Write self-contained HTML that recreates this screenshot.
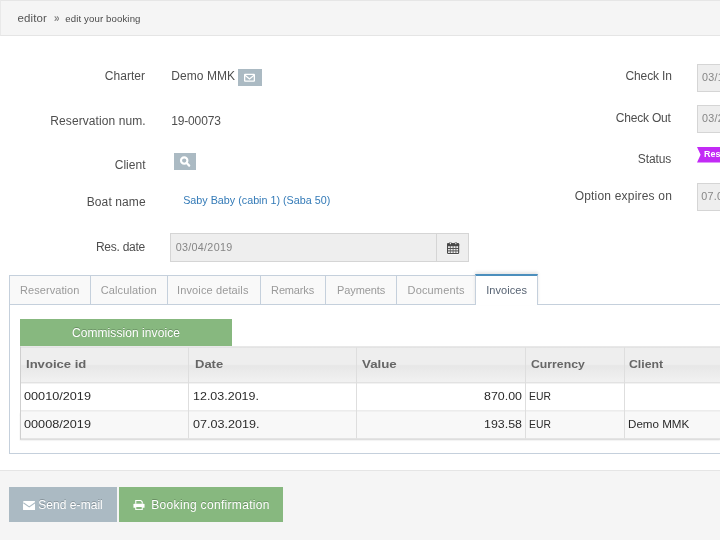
<!DOCTYPE html>
<html><head><meta charset="utf-8">
<style>
*{box-sizing:border-box;margin:0;padding:0}
html,body{width:720px;height:540px;overflow:hidden;background:#fff;font-family:"Liberation Sans",sans-serif;color:#393939;font-size:12px}
.a{position:absolute}
.t{position:absolute;white-space:nowrap;line-height:16px}
.inp{position:absolute;background:#eeeeee;border:1px solid #d5d5d5;height:28px}
.tab{position:absolute;top:275px;height:30px;background:#f9f9f9;border:1px solid #c5d0dc}
.vl{position:absolute;top:347px;width:1px;height:91px;background:#dddddd}
</style></head><body>
<div id="wrap" style="position:absolute;left:0;top:0;width:720px;height:540px;overflow:hidden;will-change:transform">
<!-- breadcrumb -->
<div class="a" style="left:0;top:0;width:720px;height:36px;background:#f5f5f5;border-top:1px solid #e6e6e6;border-left:1px solid #e9e9e9;border-bottom:1px solid #e5e5e5"></div>
<div class="t" style="left:17.4px;top:9.9px;font-size:11.5px;color:#555;letter-spacing:0.133px;">editor</div>
<svg class="a" style="left:53.7px;top:15.8px" width="5.6" height="5.5" viewBox="0 0 6 6"><path d="M0.7 0.5 L2.8 2.9 L0.7 5.3 M3.2 0.5 L5.3 2.9 L3.2 5.3" fill="none" stroke="#858585" stroke-width="1.15"/></svg>
<div class="t" style="left:65.3px;top:10.9px;font-size:9.6px;color:#4a4a4a;letter-spacing:0.129px;">edit your booking</div>

<!-- left form -->
<div class="t" style="left:104.7px;top:68.4px;font-size:12px;color:#4e4e4e;letter-spacing:0.064px;">Charter</div>
<div class="t" style="left:50.3px;top:112.7px;font-size:12px;color:#4e4e4e;letter-spacing:0.086px;">Reservation num.</div>
<div class="t" style="left:114.7px;top:156.7px;font-size:12px;color:#4e4e4e;letter-spacing:0.031px;">Client</div>
<div class="t" style="left:86.7px;top:194px;font-size:12px;color:#4e4e4e;letter-spacing:0.117px;">Boat name</div>
<div class="t" style="left:95.9px;top:239px;font-size:12px;color:#4e4e4e;letter-spacing:-0.249px;">Res. date</div>
<div class="t" style="left:171.2px;top:68.4px;font-size:12px;color:#4e4e4e;letter-spacing:0.081px;">Demo MMK</div>
<div class="a" style="left:238px;top:69px;width:24px;height:17px;background:#abbac3">
<svg width="24" height="17" viewBox="0 0 24 17"><rect x="6.65" y="5.3" width="9.7" height="6.9" rx=".4" fill="none" stroke="#fff" stroke-width="1.3"/><path d="M7 6.2 L11.5 10 L16 6.2" fill="none" stroke="#fff" stroke-width="1.2"/></svg>
</div>
<div class="t" style="left:171.2px;top:113px;font-size:12px;color:#4e4e4e;letter-spacing:-0.148px;">19-00073</div>
<div class="a" style="left:174px;top:153px;width:22px;height:17px;background:#abbac3">
<svg width="22" height="17" viewBox="0 0 22 17"><circle cx="10.2" cy="7.6" r="3.2" fill="none" stroke="#fff" stroke-width="2.1"/><path d="M12.9 10.3 L15.2 12.6" stroke="#fff" stroke-width="2.2" stroke-linecap="round"/></svg>
</div>
<div class="t" style="left:183.2px;top:192.4px;font-size:10.75px;color:#337ab7;letter-spacing:0.003px;">Saby Baby (cabin 1) (Saba 50)</div>
<div class="inp" style="left:170px;top:233px;width:267px;height:29px"></div>
<div class="t" style="left:175.7px;top:238.8px;font-size:10.75px;color:#868686;letter-spacing:0.297px;">03/04/2019</div>
<div class="a" style="left:436px;top:233px;width:32.5px;height:29px;background:#eee;border:1px solid #d5d5d5">
<svg width="30" height="27" viewBox="0 0 30 27"><g transform="translate(10 7.9)"><rect x="0" y="2.2" width="12.2" height="10.2" rx=".9" fill="#fff" opacity=".55" transform="translate(0 .7)"/><rect x=".55" y="1.9" width="11.1" height="9.7" rx=".8" fill="#f3f3f3" stroke="#484848" stroke-width="1.1"/><rect x="0" y="1.4" width="12.2" height="3" rx=".8" fill="#484848"/><rect x="2.3" y="0" width="2.2" height="3" rx="1" fill="#484848"/><rect x="7.7" y="0" width="2.2" height="3" rx="1" fill="#484848"/><rect x="2.85" y=".45" width="1.1" height="2" rx=".55" fill="#f4f4f4"/><rect x="8.25" y=".45" width="1.1" height="2" rx=".55" fill="#f4f4f4"/><path d="M0.5 6.6 H11.7 M0.5 9 H11.7" stroke="#484848" stroke-width=".95"/><path d="M3.3 4 V11.5 M6.1 4 V11.5 M8.9 4 V11.5" stroke="#5a5a5a" stroke-width=".85"/></g></svg>
</div>

<!-- right form -->
<div class="t" style="left:625.5px;top:68.4px;font-size:12px;color:#4e4e4e;letter-spacing:-0.126px;">Check In</div>
<div class="t" style="left:615.8px;top:109.7px;font-size:12px;color:#4e4e4e;letter-spacing:-0.194px;">Check Out</div>
<div class="t" style="left:637.8px;top:150.7px;font-size:12px;color:#4e4e4e;letter-spacing:-0.124px;">Status</div>
<div class="t" style="left:574.7px;top:188px;font-size:12px;color:#4e4e4e;letter-spacing:0.195px;">Option expires on</div>
<div class="inp" style="left:697px;top:64px;width:60px"></div>
<div class="inp" style="left:697px;top:104.5px;width:60px"></div>
<div class="inp" style="left:697px;top:182.5px;width:60px"></div>
<div class="t" style="left:702px;top:69.2px;font-size:10.75px;color:#868686;letter-spacing:.24px">03/15</div>
<div class="t" style="left:702px;top:110px;font-size:10.75px;color:#868686;letter-spacing:.24px">03/22</div>
<div class="t" style="left:701.3px;top:188px;font-size:10.75px;color:#868686;letter-spacing:.24px">07.03</div>
<div class="a" style="left:697px;top:147px;width:40px;height:15.5px;background:#c22af5;clip-path:polygon(0 0,100% 0,100% 100%,0 100%,3.6px 50%)"></div>
<div class="t" style="left:704px;top:146px;font-size:9.5px;font-weight:bold;color:#fff;transform:scaleX(.94);transform-origin:0 0">Reserv</div>

<!-- tabs -->
<div class="a" style="left:9px;top:304px;width:720px;height:150px;border:1px solid #c5d0dc;border-right:0"></div>
<div class="tab" style="left:9px;width:82px"></div>
<div class="tab" style="left:90px;width:78px"></div>
<div class="tab" style="left:167px;width:94px"></div>
<div class="tab" style="left:260px;width:66px"></div>
<div class="tab" style="left:325px;width:72px"></div>
<div class="tab" style="left:396px;width:80px"></div>
<div class="tab" style="left:475px;width:63px;top:274px;height:31px;background:#fff;border-top:2px solid #4c8fbd;border-bottom:0;box-shadow:0 -2px 3px 0 rgba(0,0,0,.1)"></div>
<div class="t" style="left:20px;top:281.7px;font-size:11px;color:#9a9a9a;letter-spacing:0.072px;">Reservation</div>
<div class="t" style="left:100.7px;top:281.7px;font-size:11px;color:#9a9a9a;letter-spacing:0.14px;">Calculation</div>
<div class="t" style="left:177.1px;top:281.7px;font-size:11px;color:#9a9a9a;letter-spacing:0.114px;">Invoice details</div>
<div class="t" style="left:271.1px;top:281.7px;font-size:11px;color:#9a9a9a;letter-spacing:-0.151px;">Remarks</div>
<div class="t" style="left:336.9px;top:281.7px;font-size:11px;color:#9a9a9a;letter-spacing:-0.073px;">Payments</div>
<div class="t" style="left:407.6px;top:281.7px;font-size:11px;color:#9a9a9a;letter-spacing:0.146px;">Documents</div>
<div class="t" style="left:486.2px;top:281.7px;font-size:11px;color:#576373;letter-spacing:0.05px;">Invoices</div>

<!-- green button -->
<div class="a" style="left:20px;top:319px;width:212px;height:27px;background:#87b87f"></div>
<div class="t" style="left:72px;top:324.5px;font-size:12px;color:#fff;letter-spacing:0.069px;text-shadow:0 -1px 0 rgba(0,0,0,.22);">Commission invoice</div>

<!-- table -->
<div class="a" id="tbl" style="left:20px;top:346px;width:700px;height:93px;transform:translateY(.5px)">
<div class="a" style="left:0;top:0;width:700px;height:37px;background:linear-gradient(#eeeeee 0%,#eeeeee 48%,#e7e7e7 52%,#f1f1f1 97%,#f1f1f1 100%);border-top:1px solid #d2d2d2;border-bottom:1px solid #cdcdcd"></div>
<div class="a" style="left:0;top:37px;width:700px;height:28px;background:#fff;border-bottom:1px solid #dadada"></div>
<div class="a" style="left:0;top:65px;width:700px;height:28px;background:#f8f8f8;border-bottom:1px solid #d0d0d0;box-shadow:0 1px 1.5px rgba(0,0,0,.12)"></div>
<div class="a" style="left:0;top:0;width:1px;height:93px;background:#cfcfcf"></div>
<div class="a" style="left:168px;top:1px;width:1px;height:91px;background:#dedede"></div>
<div class="a" style="left:336px;top:1px;width:1px;height:91px;background:#dedede"></div>
<div class="a" style="left:505px;top:1px;width:1px;height:91px;background:#dedede"></div>
<div class="a" style="left:603.5px;top:1px;width:1px;height:91px;background:#dedede"></div>
</div>
<div class="t" style="left:25.7px;top:355.6px;font-size:11.5px;color:#666;font-weight:bold;transform:scaleX(1.1374);transform-origin:0 0;">Invoice id</div>
<div class="t" style="left:194.5px;top:355.6px;font-size:11.5px;color:#666;font-weight:bold;transform:scaleX(1.1292);transform-origin:0 0;">Date</div>
<div class="t" style="left:362.2px;top:355.6px;font-size:11.5px;color:#666;font-weight:bold;transform:scaleX(1.1568);transform-origin:0 0;">Value</div>
<div class="t" style="left:531px;top:355.6px;font-size:11.5px;color:#666;font-weight:bold;transform:scaleX(1.0647);transform-origin:0 0;">Currency</div>
<div class="t" style="left:629.2px;top:355.6px;font-size:11.5px;color:#666;font-weight:bold;transform:scaleX(1.068);transform-origin:0 0;">Client</div>
<div class="t" style="left:24.1px;top:388.2px;font-size:11.5px;color:#2a2a2a;transform:scaleX(1.1017);transform-origin:0 0;">00010/2019</div>
<div class="t" style="left:193px;top:388.2px;font-size:11.5px;color:#2a2a2a;transform:scaleX(1.0858);transform-origin:0 0;">12.03.2019.</div>
<div class="t" style="left:483.5px;top:388.2px;font-size:11.5px;color:#2a2a2a;transform:scaleX(1.0783);transform-origin:0 0;">870.00</div>
<div class="t" style="left:529.4px;top:388.2px;font-size:11.5px;color:#2a2a2a;transform:scaleX(0.9009);transform-origin:0 0;">EUR</div>
<div class="t" style="left:24.1px;top:415.8px;font-size:11.5px;color:#2a2a2a;transform:scaleX(1.1017);transform-origin:0 0;">00008/2019</div>
<div class="t" style="left:192.5px;top:415.8px;font-size:11.5px;color:#2a2a2a;transform:scaleX(1.094);transform-origin:0 0;">07.03.2019.</div>
<div class="t" style="left:483.5px;top:415.8px;font-size:11.5px;color:#2a2a2a;transform:scaleX(1.0783);transform-origin:0 0;">193.58</div>
<div class="t" style="left:529.4px;top:415.8px;font-size:11.5px;color:#2a2a2a;transform:scaleX(0.9009);transform-origin:0 0;">EUR</div>
<div class="t" style="left:627.8px;top:415.8px;font-size:11.5px;color:#2a2a2a;transform:scaleX(1.0093);transform-origin:0 0;">Demo MMK</div>

<!-- footer -->
<div class="a" style="left:0;top:470px;width:720px;height:70px;background:#f5f5f5;border-top:1px solid #e5e5e5"></div>
<div class="a" style="left:9px;top:487px;width:108px;height:35px;background:#abbac3"></div>
<svg class="a" style="left:22.6px;top:500.5px" width="12.4" height="9.5" viewBox="0 0 13 10"><rect x="0" y="0" width="13" height="10" rx="1.2" fill="#fff"/><path d="M0.3 1.8 L6.5 6.2 L12.7 1.8" fill="none" stroke="#abbac3" stroke-width="1.1"/></svg>
<div class="t" style="left:38.3px;top:496.9px;font-size:12px;color:#fff;letter-spacing:0.043px;text-shadow:0 -1px 0 rgba(0,0,0,.22);">Send e-mail</div>
<div class="a" style="left:119.3px;top:487px;width:163.4px;height:35px;background:#87b87f"></div>
<svg class="a" style="left:133.2px;top:499.8px" width="12" height="10.2" viewBox="0 0 12 11"><path d="M2.5 4 V0.6 H8 L9.5 2.1 V4" fill="none" stroke="#fff" stroke-width="1.2"/><rect x="0" y="4" width="12" height="4.5" rx="0.8" fill="#fff"/><rect x="2.5" y="7" width="7" height="3.4" fill="#87b87f" stroke="#fff" stroke-width="1.1"/></svg>
<div class="t" style="left:151.3px;top:496.9px;font-size:12px;color:#fff;letter-spacing:0.322px;text-shadow:0 -1px 0 rgba(0,0,0,.22);">Booking confirmation</div>
</div>
</body></html>
